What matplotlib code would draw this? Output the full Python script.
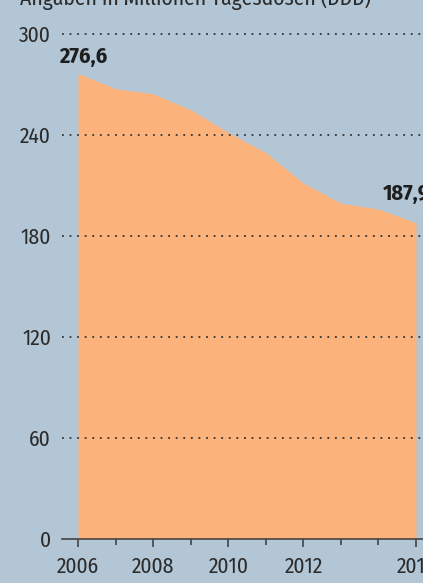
import numpy as np
import matplotlib
matplotlib.use('Agg')
import matplotlib.pyplot as plt

years = [2006, 2007, 2008, 2009, 2010, 2011, 2012, 2013, 2014, 2015]
ddd = [276.6, 267.5, 264.5, 255.0, 241.5, 229.5, 211.5, 199.5, 196.0, 187.9]
major_years = [2006, 2008, 2010, 2012, 2015]
minor_years = [2007, 2009, 2011, 2013, 2014]
y_ticks = [0, 60, 120, 180, 240, 300]
subtitle = 'Angaben in Millionen Tagesdosen (DDD)'

bg = '#b3c6d5'
fill_color = '#fbb37b'
text_color = '#2b2b2b'

plt.rcParams['font.family'] = ['Fira Sans Condensed', 'Fira Sans', 'DejaVu Sans']

fig = plt.figure(figsize=(4.23, 5.83), dpi=100, facecolor=bg)
# axes runs past the right edge, like the cropped original
ax = fig.add_axes([62 / 423, 44 / 583, 378 / 423, 505 / 583], facecolor=bg)

ax.fill_between(years, ddd, 0, color=fill_color, lw=0, zorder=1)

ax.set_xlim(2006 - 16 / 37.56, 2006 + 362 / 37.56)
ax.set_ylim(0, 300)

ax.set_yticks(y_ticks)
ax.set_yticklabels([str(v) for v in y_ticks])
ax.set_xticks(major_years)
ax.set_xticklabels([str(v) for v in major_years])
ax.set_xticks(minor_years, minor=True)

for v in y_ticks[1:]:
    ax.axhline(v, color='#333333', lw=1.3, ls=(0, (1, 3.2)), zorder=2, clip_on=False)

for s in ['top', 'right', 'left']:
    ax.spines[s].set_visible(False)
ax.spines['bottom'].set_color('#444444')
ax.spines['bottom'].set_linewidth(1.2)
ax.spines['bottom'].set_zorder(3)

ax.tick_params(axis='y', length=0, pad=8, labelsize=15.5, labelcolor=text_color)
ax.tick_params(axis='x', which='major', length=6, width=1.2, color='#444444',
               pad=6, labelsize=15.5, labelcolor=text_color)
ax.tick_params(axis='x', which='minor', length=4, width=1.2, color='#444444')

ax.annotate('276,6', (years[0], ddd[0]), xytext=(-14, 12), textcoords='offset points',
            ha='left', va='center', fontsize=16, fontweight='bold', color='#1e1e1e')
ax.annotate('187,9', (years[-1], ddd[-1]), xytext=(-24, 21), textcoords='offset points',
            ha='left', va='center', fontsize=16, fontweight='bold', color='#1e1e1e',
            annotation_clip=False)

fig.text(20 / 423, 1 - 4.5 / 583, subtitle, ha='left', va='baseline',
         fontsize=15.5, color=text_color)

fig.savefig('out.png', dpi=100, facecolor=bg)
